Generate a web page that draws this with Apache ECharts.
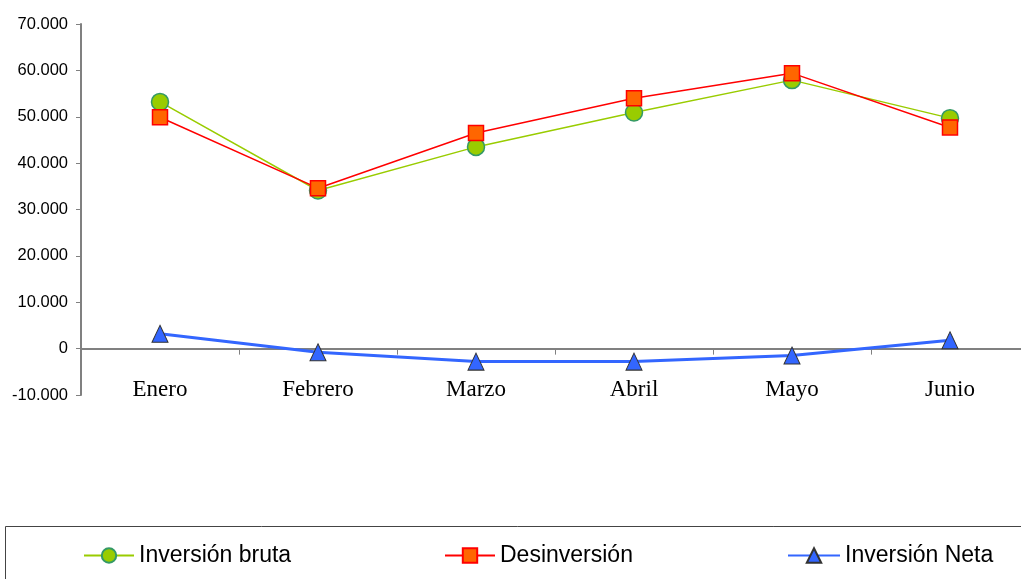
<!DOCTYPE html>
<html>
<head>
<meta charset="utf-8">
<script src="https://cdn.jsdelivr.net/npm/echarts@6/dist/echarts.min.js"></script>
<style>html,body{margin:0;padding:0;background:#fff;overflow:hidden;}#c{width:1029px;height:579px;}</style>
</head>
<body>
<div id="c"></div>
<script>
const categories = ['Enero', 'Febrero', 'Marzo', 'Abril', 'Mayo', 'Junio'];
const inversionBruta = [53200, 34100, 43500, 50900, 57900, 49700];
const desinversion = [49900, 34600, 46500, 54000, 59400, 47700];
const inversionNeta = [3200, -800, -2800, -2800, -1500, 1800];
const yTicks = { min: -10000, max: 70000, interval: 10000 };

function fmt(v) {
  const s = Math.abs(v).toString().replace(/\B(?=(\d{3})+(?!\d))/g, '.');
  return (v < 0 ? '-' : '') + s;
}

const chart = echarts.init(document.getElementById('c'));
const legendText = { fontFamily: 'Liberation Sans, Arial, sans-serif', fontSize: 23, color: '#000' };
chart.setOption({
  animation: false,
  backgroundColor: '#fff',
  grid: { left: 81, top: 24, right: 0, bottom: 184, containLabel: false },
  xAxis: {
    type: 'category',
    data: categories,
    boundaryGap: true,
    axisLine: { onZero: true, lineStyle: { color: '#808080', width: 2 } },
    axisTick: { show: true, length: 6, inside: false, lineStyle: { color: '#808080', width: 1 } },
    axisLabel: { margin: -17, fontFamily: 'Liberation Serif, Times New Roman, serif', fontSize: 23, color: '#000' },
    splitLine: { show: false }
  },
  yAxis: {
    type: 'value',
    min: yTicks.min, max: yTicks.max, interval: yTicks.interval,
    axisLine: { show: true, lineStyle: { color: '#808080', width: 2 } },
    axisTick: { show: true, length: 5, lineStyle: { color: '#808080' } },
    axisLabel: { formatter: fmt, margin: 13, fontFamily: 'Liberation Sans, Arial, sans-serif', fontSize: 16.5, color: '#000' },
    splitLine: { show: false }
  },
  legend: [
    { data: ['Inversión bruta'], left: 78, top: 539, itemWidth: 50, itemHeight: 18, textStyle: legendText },
    { data: ['Desinversión'], left: 439, top: 539, itemWidth: 50, itemHeight: 18, textStyle: legendText },
    { data: ['Inversión Neta'], left: 782, top: 539, itemWidth: 52, itemHeight: 18, textStyle: legendText }
  ],
  graphic: [{
    type: 'rect', left: 3, top: 524, silent: true,
    shape: { width: 1040, height: 70 },
    style: { fill: 'none', stroke: '#444', lineWidth: 1 }
  }],
  series: [
    {
      name: 'Inversión bruta', type: 'line', data: inversionBruta,
      symbol: 'circle', symbolSize: 17,
      lineStyle: { color: '#99CC00', width: 1.5 },
      itemStyle: { color: '#99CC00', borderColor: '#339966', borderWidth: 1.5 }
    },
    {
      name: 'Desinversión', type: 'line', data: desinversion,
      symbol: 'rect', symbolSize: 15,
      lineStyle: { color: '#FF0000', width: 1.5 },
      itemStyle: { color: '#FF6600', borderColor: '#FF0000', borderWidth: 1.5 }
    },
    {
      name: 'Inversión Neta', type: 'line', data: inversionNeta,
      symbol: 'triangle', symbolSize: [16, 17],
      lineStyle: { color: '#3366FF', width: 3 },
      itemStyle: { color: '#3366FF', borderColor: '#333333', borderWidth: 1 }
    }
  ]
});
</script>
</body>
</html>
